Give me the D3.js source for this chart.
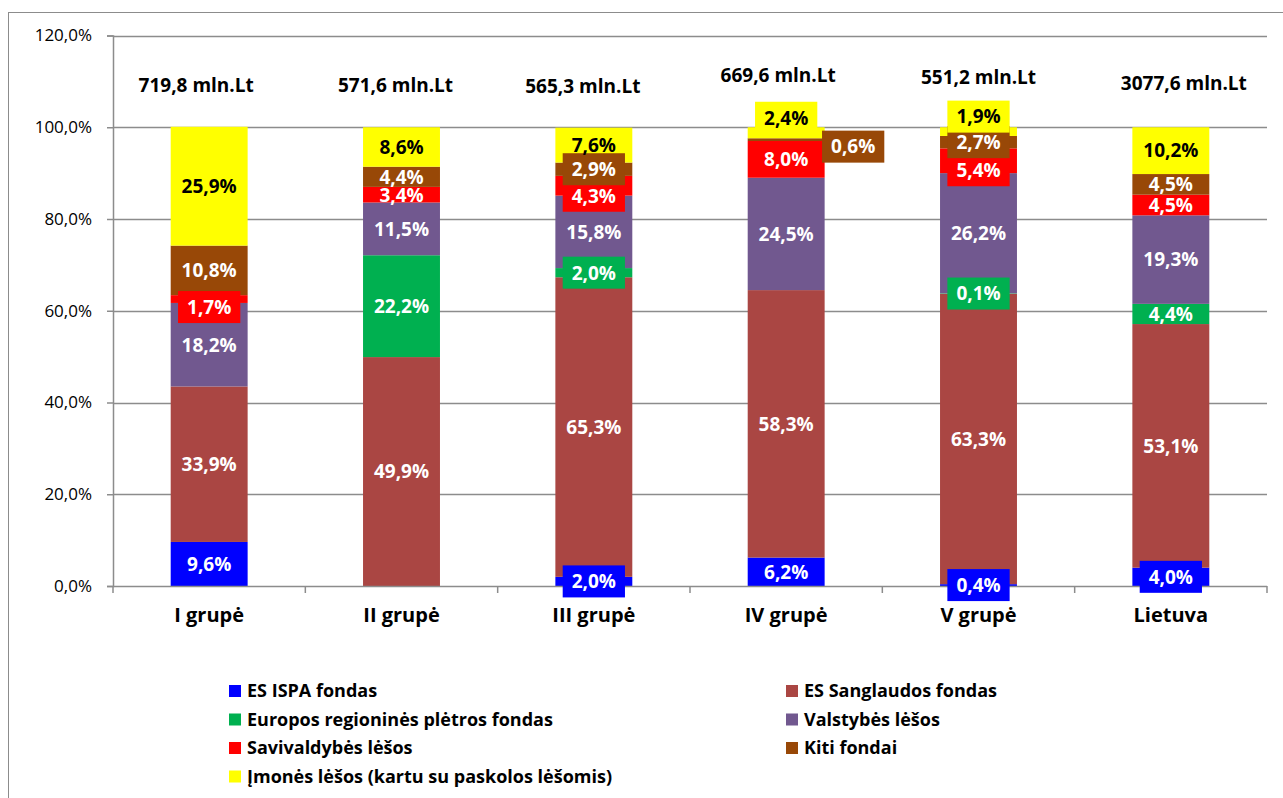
<!DOCTYPE html>
<html>
<head>
<meta charset="utf-8">
<script src="https://cdn.jsdelivr.net/npm/d3@7"></script>
<style>
  body { margin: 0; background: #fff; }
  svg { font-family: "Open Sans", "Noto Sans", sans-serif; }
</style>
</head>
<body>
<svg></svg>
<script>
const width = 1283
const height = 798
const svg = d3.select('svg')
  .attr('width', width)
  .attr('height', height)

// categories and totals
var categories = ["I grupė", "II grupė", "III grupė", "IV grupė", "V grupė", "Lietuva"];
var totals = ["719,8 mln.Lt", "571,6 mln.Lt", "565,3 mln.Lt", "669,6 mln.Lt", "551,2 mln.Lt", "3077,6 mln.Lt"];

// series, bottom to top
var seriesNames = [
  "ES ISPA fondas",
  "ES Sanglaudos fondas",
  "Europos regioninės plėtros fondas",
  "Valstybės lėšos",
  "Savivaldybės lėšos",
  "Kiti fondai",
  "Įmonės lėšos (kartu su paskolos lėšomis)"
];
var ispa       = [9.6, 0,    2.0,  6.2,  0.4,  4.0];
var sanglaudos = [33.9, 49.9, 65.3, 58.3, 63.3, 53.1];
var erpf       = [0,    22.2, 2.0,  0,    0.1,  4.4];
var valstybes  = [18.2, 11.5, 15.8, 24.5, 26.2, 19.3];
var savivald   = [1.7,  3.4,  4.3,  8.0,  5.4,  4.5];
var kiti       = [10.8, 4.4,  2.9,  0.6,  2.7,  4.5];
var imones     = [25.9, 8.6,  7.6,  2.4,  1.9,  10.2];

var yTicks = [0, 20, 40, 60, 80, 100, 120];

var seriesValues = [ispa, sanglaudos, erpf, valstybes, savivald, kiti, imones];
var colors = ["#0000FF", "#AA4643", "#00B050", "#71588F", "#FF0000", "#984807", "#FFFF00"];
var textColors = ["#fff", "#fff", "#fff", "#fff", "#fff", "#fff", "#000"];

// label nudges "series|category" -> [dx, dy] in px
var labelShift = {
  "4|0": [0, 8],
  "4|2": [0, 10],
  "4|4": [0, 9.5],
  "5|3": [67, 7],
  "6|3": [0, -15],
  "6|4": [0, -15]
};
// labels that carry a filled box
var boxed = ["4|0", "0|2", "2|2", "4|2", "5|2", "5|3", "6|3", "0|4", "2|4", "4|4", "5|4", "6|4", "0|5"];
var totalShift = [[-13, 0], [-6, 0], [-11, 1], [-8, -10], [0, -8], [13, -2]];

var margin = {left: 113, right: 1267, top: 35.5, bottom: 586};

var x = d3.scaleBand()
  .domain(categories)
  .range([margin.left, margin.right])
  .paddingInner(0.6)
  .paddingOuter(0.3);

var xTickScale = d3.scaleBand().domain(categories).range([margin.left, margin.right]);

var y = d3.scaleLinear().domain([0, 120]).range([margin.bottom, margin.top]);

// outer chart border
svg.append("rect")
  .attr("x", 8.5).attr("y", 12.5)
  .attr("width", 1300).attr("height", 820)
  .attr("fill", "none").attr("stroke", "#8c8c8c").attr("stroke-width", 1);

// gridlines
svg.append("g")
  .selectAll("line")
  .data(yTicks.filter(d => d > 0))
  .enter()
  .append("line")
  .attr("x1", margin.left).attr("x2", margin.right)
  .attr("y1", d => Math.round(y(d)) + 0.5).attr("y2", d => Math.round(y(d)) + 0.5)
  .attr("stroke", "#8c8c8c").attr("stroke-width", 1.5);

// y axis
var yAxis = svg.append("g")
  .attr("transform", "translate(" + margin.left + ",0)")
  .call(d3.axisLeft(y).tickValues(yTicks).tickSize(6)
    .tickFormat(d => d3.format(".1f")(d).replace(".", ",") + "%"));
yAxis.select(".domain").attr("stroke", "#8c8c8c").attr("stroke-width", 1.5);
yAxis.selectAll(".tick line").attr("stroke", "#8c8c8c").attr("stroke-width", 1.5);
yAxis.selectAll(".tick text")
  .attr("x", -21)
  .style("font-size", "17px").style("fill", "#000")
  .style("font-family", "'Open Sans', sans-serif");

// stacked data
var table = categories.map(function(c, i) {
  var row = {cat: c};
  seriesValues.forEach(function(s, k) { row[k] = s[i]; });
  return row;
});
var stacked = d3.stack().keys(d3.range(seriesValues.length))(table);

var bars = svg.append("g");
stacked.forEach(function(layer, k) {
  bars.append("g")
    .attr("fill", colors[k])
    .selectAll("rect")
    .data(layer)
    .enter()
    .append("rect")
    .attr("x", d => x(d.data.cat))
    .attr("width", x.bandwidth())
    .attr("y", d => y(d[1]))
    .attr("height", d => Math.max(0, y(d[0]) - y(d[1])));
});

// x axis
svg.append("line")
  .attr("x1", margin.left).attr("x2", margin.right)
  .attr("y1", margin.bottom + 0.5).attr("y2", margin.bottom + 0.5)
  .attr("stroke", "#8c8c8c").attr("stroke-width", 1.5);
svg.append("g")
  .selectAll("line")
  .data(categories.concat(["_end"]))
  .enter()
  .append("line")
  .attr("x1", (d, i) => margin.left + i * xTickScale.bandwidth())
  .attr("x2", (d, i) => margin.left + i * xTickScale.bandwidth())
  .attr("y1", margin.bottom).attr("y2", margin.bottom + 7)
  .attr("stroke", "#8c8c8c").attr("stroke-width", 1.5);

svg.append("g")
  .selectAll("text")
  .data(categories)
  .enter()
  .append("text")
  .attr("x", d => x(d) + x.bandwidth() / 2)
  .attr("y", 622)
  .attr("text-anchor", "middle")
  .style("font-size", "20px").style("font-weight", "bold")
  .text(d => d);

// totals above bars
svg.append("g")
  .selectAll("text")
  .data(totals)
  .enter()
  .append("text")
  .attr("x", (d, i) => x(categories[i]) + x.bandwidth() / 2 + totalShift[i][0])
  .attr("y", (d, i) => 92 + totalShift[i][1])
  .attr("text-anchor", "middle")
  .style("font-size", "19px").style("font-weight", "bold")
  .text(d => d);

// data labels, some with filled boxes (higher series drawn on top)
var labels = svg.append("g");
stacked.forEach(function(layer, k) {
  layer.forEach(function(d, i) {
    var v = seriesValues[k][i];
    if (!v) return;
    var key = k + "|" + i;
    var sh = labelShift[key] || [0, 0];
    var cx = x(d.data.cat) + x.bandwidth() / 2 + sh[0];
    var cy = (y(d[0]) + y(d[1])) / 2 + sh[1];
    var g = labels.append("g").attr("transform", "translate(" + cx + "," + cy + ")");
    var t = g.append("text")
      .attr("text-anchor", "middle")
      .attr("dy", "0.36em")
      .style("font-size", "19px").style("font-weight", "bold")
      .style("fill", textColors[k])
      .text(d3.format(".1f")(v).replace(".", ",") + "%");
    if (boxed.indexOf(key) >= 0) {
      var w = t.node().getComputedTextLength() + 18;
      g.insert("rect", "text")
        .attr("x", -w / 2).attr("y", -16)
        .attr("width", w).attr("height", 32)
        .attr("fill", colors[k]);
    }
  });
});

// legend
var legend = svg.append("g")
  .selectAll("g")
  .data(seriesNames)
  .enter()
  .append("g")
  .attr("transform", (d, i) => "translate(" + (i % 2 === 0 ? 229 : 786) + "," + (691 + Math.floor(i / 2) * 28.5) + ")");
legend.append("rect")
  .attr("x", 0).attr("y", -6)
  .attr("width", 12).attr("height", 12)
  .attr("fill", (d, i) => colors[i]);
legend.append("text")
  .attr("x", 18).attr("dy", "0.36em")
  .style("font-size", "18px").style("font-weight", "bold")
  .text(d => d);
</script>
</body>
</html>
